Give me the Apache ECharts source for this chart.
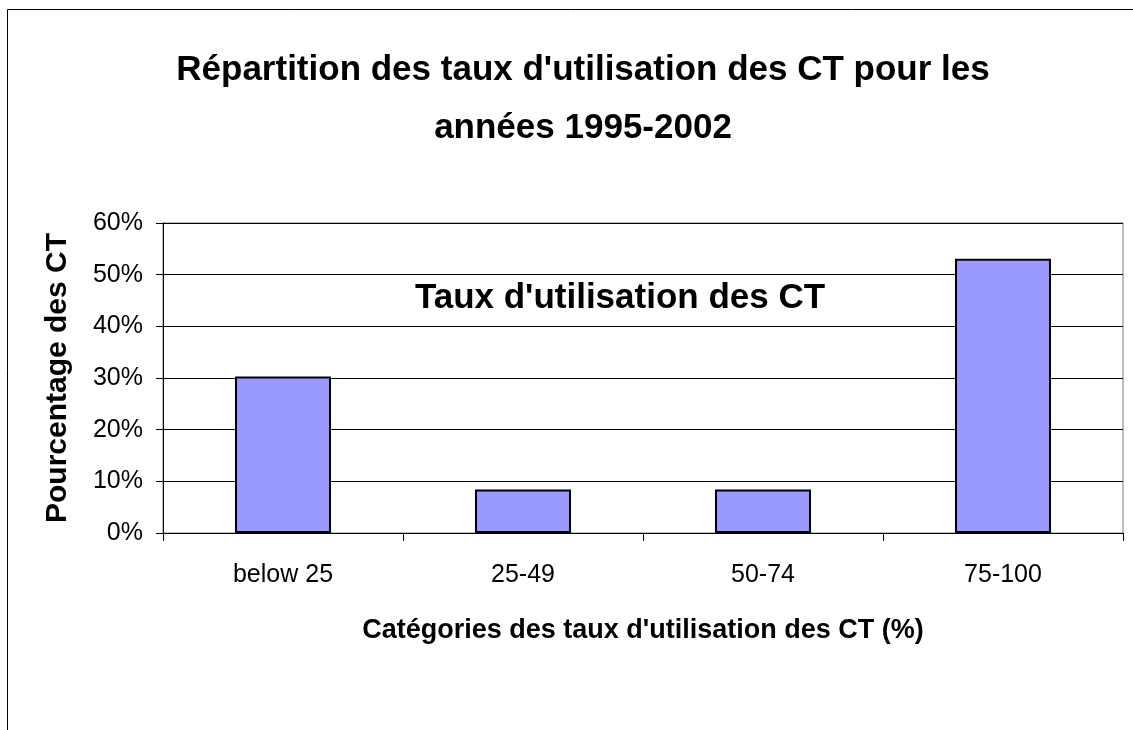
<!DOCTYPE html>
<html>
<head>
<meta charset="utf-8">
<script src="https://cdn.jsdelivr.net/npm/echarts@6/dist/echarts.min.js"></script>
<style>
html, body { margin: 0; padding: 0; background: #fff; }
#container { width: 1133px; height: 730px; }
</style>
</head>
<body>
<div id="container"></div>
<script>
var categories = ['below 25', '25-49', '50-74', '75-100'];
var values = [30.3, 8.4, 8.4, 53.1];
var yTicks = [0, 10, 20, 30, 40, 50, 60];

var dom = document.getElementById("container");
var myChart = echarts.init(dom);
var font = 'Liberation Sans, Arial, sans-serif';

var option = {
    animation: false,
    title: {
        text: "Répartition des taux d'utilisation des CT pour les\nannées 1995-2002",
        left: 578,
        top: 36,
        textAlign: 'center',
        textStyle: {
            fontFamily: font,
            fontSize: 35,
            fontWeight: 'bold',
            color: '#000',
            lineHeight: 58
        }
    },
    graphic: [{
        type: 'rect',
        shape: { x: 7.5, y: 9.5, width: 1200, height: 800 },
        style: { fill: 'none', stroke: '#000', lineWidth: 1 },
        silent: true
    }, {
        type: 'text',
        x: 620,
        y: 298,
        style: {
            text: "Taux d'utilisation des CT",
            fontFamily: font,
            fontSize: 35,
            fontWeight: 'bold',
            fill: '#000',
            textAlign: 'center',
            textVerticalAlign: 'middle'
        }
    }],
    grid: {
        left: 163,
        right: 10,
        top: 223,
        bottom: 197,
        show: true,
        borderColor: '#808080',
        borderWidth: 1
    },
    xAxis: {
        type: 'category',
        data: categories,
        name: "Catégories des taux d'utilisation des CT (%)",
        nameLocation: 'middle',
        nameGap: 84,
        nameTextStyle: { fontFamily: font, fontSize: 27, fontWeight: 'bold', color: '#000' },
        axisLine: { lineStyle: { color: '#000', width: 1 } },
        axisTick: { show: true, length: 8, lineStyle: { color: '#000' } },
        axisLabel: { margin: 30, fontFamily: font, fontSize: 25, color: '#000' }
    },
    yAxis: {
        type: 'value',
        min: yTicks[0],
        max: yTicks[yTicks.length - 1],
        interval: 10,
        name: 'Pourcentage des CT',
        nameLocation: 'middle',
        nameGap: 90,
        nameTextStyle: { fontFamily: font, fontSize: 30, fontWeight: 'bold', color: '#000' },
        axisLine: { show: true, lineStyle: { color: '#000', width: 1 } },
        axisTick: { show: true, length: 7, lineStyle: { color: '#000' } },
        axisLabel: { margin: 20, fontFamily: font, fontSize: 25, color: '#000', formatter: '{value}%' },
        splitLine: { lineStyle: { color: '#000', width: 1 } }
    },
    series: [{
        type: 'bar',
        data: values,
        barCategoryGap: '60%',
        itemStyle: { color: '#9999FF', borderColor: '#000', borderWidth: 2 }
    }]
};
myChart.setOption(option, true);
</script>
</body>
</html>
